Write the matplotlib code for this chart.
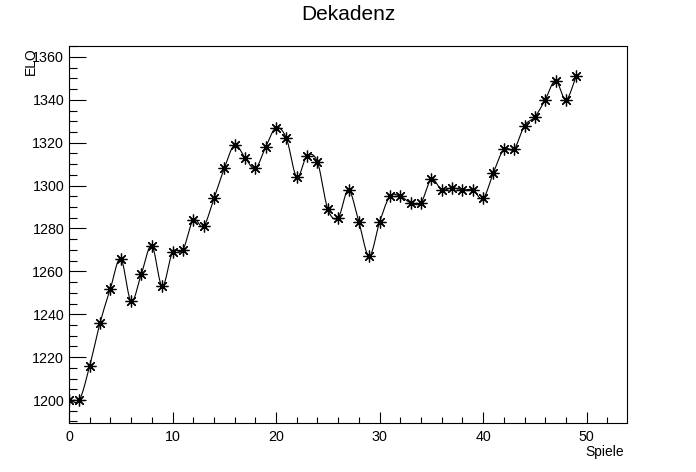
import matplotlib.pyplot as plt
import numpy as np
from matplotlib.ticker import MultipleLocator

# Data
spiele = list(range(50))
elo = [1200, 1200, 1216, 1236, 1252, 1266, 1246, 1259, 1272, 1253,
       1269, 1270, 1284, 1281, 1294, 1308, 1319, 1313, 1308, 1318,
       1327, 1322, 1304, 1314, 1311, 1289, 1285, 1298, 1283, 1267,
       1283, 1295, 1295, 1292, 1292, 1303, 1298, 1299, 1298, 1298,
       1294, 1306, 1317, 1317, 1328, 1332, 1340, 1349, 1340, 1351]

plt.rcParams['font.family'] = ['Liberation Sans', 'DejaVu Sans']


# smooth line through the points (like ROOT's "C" draw option)
def smooth_curve(x, y, n=16):
    x = np.asarray(x, float)
    y = np.asarray(y, float)
    m = np.gradient(y, x)
    xs, ys = [], []
    t = np.linspace(0, 1, n, endpoint=False)
    h00 = 2 * t**3 - 3 * t**2 + 1
    h10 = t**3 - 2 * t**2 + t
    h01 = -2 * t**3 + 3 * t**2
    h11 = t**3 - t**2
    for i in range(len(x) - 1):
        h = x[i + 1] - x[i]
        xs.append(x[i] + t * h)
        ys.append(h00 * y[i] + h10 * h * m[i] + h01 * y[i + 1] + h11 * h * m[i + 1])
    xs.append([x[-1]])
    ys.append([y[-1]])
    return np.concatenate(xs), np.concatenate(ys)


fig = plt.figure(figsize=(6.96, 4.72), dpi=100)
ax = fig.add_axes([69 / 696, 1 - 423 / 472, 558 / 696, 377 / 472])

cx, cy = smooth_curve(spiele, elo)
ax.plot(cx, cy, color='black', lw=0.8)
ax.plot(spiele, elo, ls='none', marker=(8, 2, 0), ms=8.5, mew=0.9,
        color='black')

ax.set_xlim(0, 53.9)
ax.set_ylim(1189.3, 1365.1)

ax.xaxis.set_major_locator(MultipleLocator(10))
ax.xaxis.set_minor_locator(MultipleLocator(2))
ax.yaxis.set_major_locator(MultipleLocator(20))
ax.yaxis.set_minor_locator(MultipleLocator(5))

ax.tick_params(axis='both', which='both', direction='in', top=False,
               right=False, labelsize=10.3, width=0.8)
ax.tick_params(axis='y', which='major', length=12.2, pad=3.5)
ax.tick_params(axis='y', which='minor', length=6)
ax.tick_params(axis='x', which='major', length=8, pad=5)
ax.tick_params(axis='x', which='minor', length=4)

for s in ax.spines.values():
    s.set_linewidth(0.8)

fig.text(0.5, 1 - 15 / 472, 'Dekadenz', ha='center', va='center', fontsize=15)
fig.text(624 / 696, 1 - 452 / 472, 'Spiele', ha='right', va='center', fontsize=10)
fig.text(31 / 696, 1 - 47 / 472, 'ELO', ha='center', va='top', rotation=90,
         fontsize=10)

fig.savefig('out.png', dpi=100)
